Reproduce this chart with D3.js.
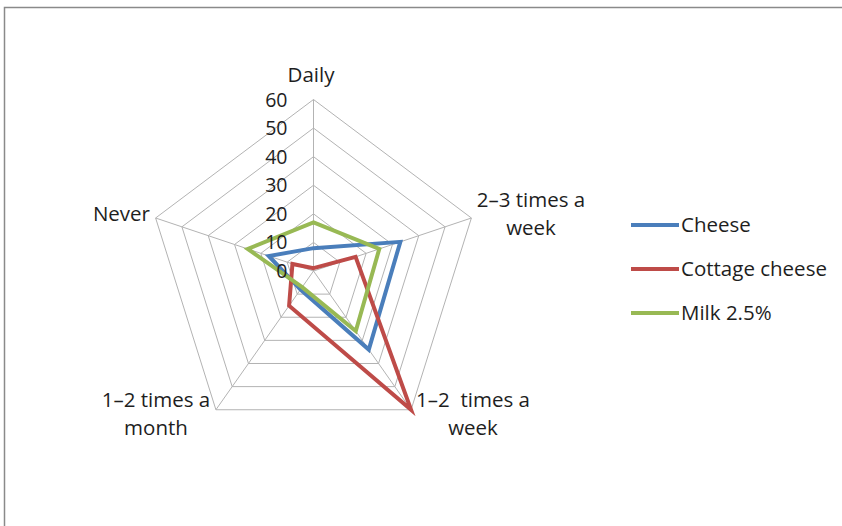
<!DOCTYPE html>
<html>
<head>
<meta charset="utf-8">
<script src="https://cdn.jsdelivr.net/npm/d3@7"></script>
<style>
  html, body { margin: 0; padding: 0; background: #fff; }
  svg { display: block; }
  text { font-family: "Open Sans", Lato, sans-serif; fill: #1e1e1e; white-space: pre; }
</style>
</head>
<body>
<svg id="chart" width="842" height="526"></svg>
<script>
// Frequency of consumption (% of respondents)
const categories = ["Daily", "2–3 times a week", "1–2  times a week", "1–2 times a month", "Never"];
const categoryLines = [["Daily"], ["2–3 times a", "week"], ["1–2  times a", "week"], ["1–2 times a", "month"], ["Never"]];
const seriesNames = ["Cheese", "Cottage cheese", "Milk 2.5%"];
const cheese = [8, 33, 34, 8, 17];
const cottageCheese = [1, 16, 60, 15, 8];
const milk = [17, 25, 26, 7, 25];
const tickValues = [0, 10, 20, 30, 40, 50, 60];
const seriesColors = ["#4a7ebb", "#be4b48", "#98b954"];

const seriesValues = [cheese, cottageCheese, milk];

const svg = d3.select("#chart");
const fontSize = 20.5;
const tickFontSize = 19.5;

// chart frame
svg.append("rect")
  .attr("x", 4.5).attr("y", 7.5)
  .attr("width", 900).attr("height", 600)
  .attr("fill", "none").attr("stroke", "#8a8a8a").attr("stroke-width", 1.5);

const cx = 313.5, cy = 271;
const kx = 0.968; // horizontal aspect of the plot area
const r = d3.scaleLinear().domain([0, 60]).range([0, 171.5]);
const angle = d3.scalePoint().domain(d3.range(categories.length)).range([0, 2 * Math.PI * (categories.length - 1) / categories.length]);

function pt(i, v) {
  const a = angle(i);
  return [cx + r(v) * Math.sin(a) * kx, cy - r(v) * Math.cos(a)];
}

const line = d3.line().curve(d3.curveLinearClosed);
const gGrid = svg.append("g");

// concentric pentagons
tickValues.filter(t => t > 0).forEach(t => {
  gGrid.append("path")
    .attr("d", line(categories.map((c, i) => pt(i, t))))
    .attr("fill", "none").attr("stroke", "#b3b3b3").attr("stroke-width", 1);
});
// spokes
categories.forEach((c, i) => {
  const [x, y] = pt(i, 60);
  gGrid.append("line")
    .attr("x1", cx).attr("y1", cy).attr("x2", x).attr("y2", y)
    .attr("stroke", "#b3b3b3").attr("stroke-width", 1);
});

// series
seriesValues.forEach((vals, s) => {
  svg.append("path")
    .attr("d", line(vals.map((v, i) => pt(i, v))))
    .attr("fill", "none")
    .attr("stroke", seriesColors[s])
    .attr("stroke-width", 4)
    .attr("stroke-linejoin", "miter");
});

// value axis labels
svg.append("g").selectAll("text").data(tickValues).join("text")
  .attr("x", cx - 26)
  .attr("y", d => cy - r(d))
  .attr("dy", "0.36em")
  .attr("text-anchor", "end")
  .attr("font-size", tickFontSize)
  .text(d => d);

// category labels
const labelPos = [
  { x: 311, y: 82, anchor: "middle" },
  { x: 531, y: 207, anchor: "middle" },
  { x: 473, y: 407, anchor: "middle" },
  { x: 156, y: 407, anchor: "middle" },
  { x: 150, y: 221, anchor: "end" }
];
categoryLines.forEach((lines, i) => {
  const p = labelPos[i];
  const t = svg.append("text")
    .attr("x", p.x).attr("y", p.y)
    .attr("text-anchor", p.anchor)
    .attr("font-size", fontSize);
  lines.forEach((l, j) => {
    t.append("tspan").attr("x", p.x).attr("dy", j === 0 ? 0 : 28).text(l);
  });
});

// legend
const legendY = d3.scalePoint().domain(seriesNames).range([225, 313]);
const lg = svg.append("g");
seriesNames.forEach((n, s) => {
  const y = legendY(n);
  lg.append("line")
    .attr("x1", 631).attr("x2", 679).attr("y1", y).attr("y2", y)
    .attr("stroke", seriesColors[s]).attr("stroke-width", 4);
  lg.append("text")
    .attr("x", 681).attr("y", y).attr("dy", "0.36em")
    .attr("font-size", fontSize)
    .text(n);
});
</script>
</body>
</html>
